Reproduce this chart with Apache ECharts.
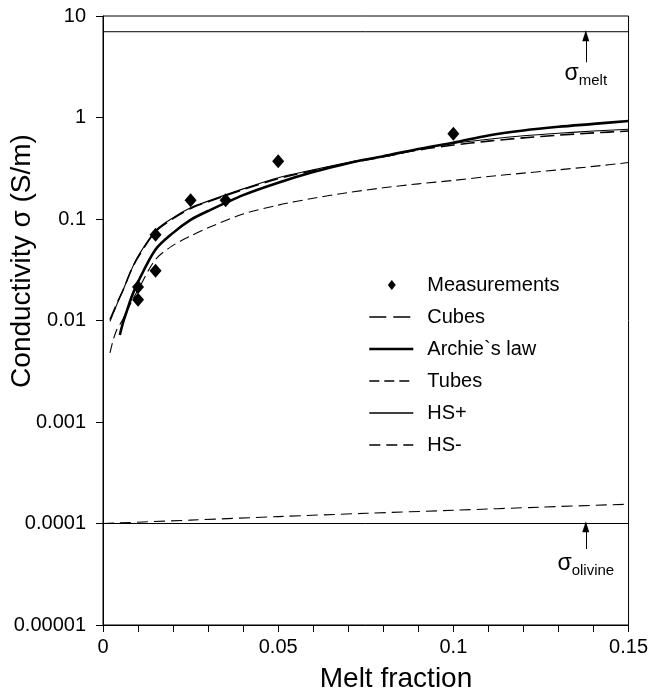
<!DOCTYPE html>
<html>
<head>
<meta charset="utf-8">
<script src="https://cdn.jsdelivr.net/npm/echarts@6/dist/echarts.min.js"></script>
<style>
  html, body { margin: 0; padding: 0; background: #fff; }
  #chart { width: 651px; height: 690px; }
</style>
</head>
<body>
<div id="chart"></div>
<script>
// measured points
var measX = [0.01, 0.01, 0.015, 0.015, 0.025, 0.035, 0.05, 0.1];
var measY = [0.0214, 0.016, 0.07, 0.031, 0.153, 0.153, 0.37, 0.69];

// model curves (melt fraction -> conductivity)
var hsPlusX = [0.002, 0.004, 0.006, 0.008, 0.01, 0.015, 0.02, 0.025, 0.03, 0.04, 0.05, 0.06, 0.07, 0.08, 0.09, 0.1, 0.11, 0.12, 0.13, 0.14, 0.15];
var hsPlusY = [0.0098, 0.0145, 0.021, 0.031, 0.043, 0.077, 0.103, 0.129, 0.15, 0.198, 0.255, 0.305, 0.36, 0.415, 0.49, 0.555, 0.61, 0.66, 0.70, 0.735, 0.765];

var cubesX = [0.002, 0.004, 0.006, 0.008, 0.01, 0.015, 0.02, 0.025, 0.03, 0.04, 0.05, 0.06, 0.07, 0.08, 0.09, 0.1, 0.11, 0.12, 0.13, 0.14, 0.15];
var cubesY = [0.0102, 0.0148, 0.021, 0.031, 0.042, 0.075, 0.101, 0.127, 0.148, 0.195, 0.25, 0.30, 0.355, 0.41, 0.478, 0.535, 0.585, 0.63, 0.67, 0.705, 0.735];

var archieX = [0.0048, 0.0057, 0.007, 0.008, 0.01, 0.015, 0.02, 0.025, 0.03, 0.04, 0.05, 0.06, 0.07, 0.08, 0.09, 0.1, 0.11, 0.12, 0.13, 0.14, 0.15];
var archieY = [0.0072, 0.0095, 0.013, 0.0165, 0.024, 0.05, 0.073, 0.098, 0.12, 0.172, 0.228, 0.29, 0.355, 0.415, 0.49, 0.565, 0.665, 0.745, 0.81, 0.865, 0.925];

var tubesX = [0.002, 0.003, 0.004, 0.0055, 0.008, 0.01, 0.015, 0.02, 0.025, 0.03, 0.04, 0.05, 0.06, 0.07, 0.08, 0.09, 0.1, 0.11, 0.12, 0.13, 0.14, 0.15];
var tubesY = [0.0048, 0.0066, 0.0082, 0.01, 0.015, 0.02, 0.04, 0.055, 0.068, 0.082, 0.112, 0.137, 0.16, 0.182, 0.203, 0.222, 0.24, 0.262, 0.283, 0.305, 0.33, 0.36];

var hsMinusX = [0, 0.025, 0.05, 0.075, 0.1, 0.125, 0.15];
var hsMinusY = [0.0001, 0.000108, 0.000117, 0.000126, 0.000135, 0.000145, 0.000155];

// end members
var sigmaMelt = 7;
var sigmaOlivine = 0.0001;

var yLabels = ['0.00001', '0.0001', '0.001', '0.01', '0.1', '1', '10'];

function pairs(xs, ys) {
  return xs.map(function (x, i) { return [x, ys[i]]; });
}

var font = '"Liberation Sans", Arial, Helvetica, sans-serif';
var myChart = echarts.init(document.getElementById('chart'));

var lineSeries = function (name, xs, ys, width, type) {
  return {
    name: name,
    type: 'line',
    data: pairs(xs, ys),
    showSymbol: false,
    symbol: 'none',
    smooth: 0.3,
    silent: true,
    lineStyle: { color: '#000', width: width, type: type },
    itemStyle: { color: '#000' },
    z: 3
  };
};

// legend entries for lines: line only, no symbol
var noSym = { color: 'rgba(0,0,0,0)', borderColor: 'rgba(0,0,0,0)', borderWidth: 0, opacity: 0 };

myChart.setOption({
  animation: false,
  backgroundColor: '#fff',
  grid: {
    left: 103, right: 19, top: 16, bottom: 65,
    show: true, borderColor: '#000', borderWidth: 1
  },
  legend: {
    orient: 'vertical',
    left: 368,
    top: 275,
    padding: 0,
    itemWidth: 44,
    itemHeight: 14,
    itemGap: 12,
    selectedMode: false,
    textStyle: { fontFamily: font, fontSize: 20, color: '#000', padding: [0, 0, 0, 9] },
    data: [
      { name: 'Measurements', icon: 'path://M0,0M0,14M5,2L9,7L5,12L1,7Z', itemStyle: { color: '#000', opacity: 1 } },
      { name: 'Cubes', itemStyle: noSym, lineStyle: { width: 1.6, type: [17, 7] } },
      { name: 'Archie`s law', itemStyle: noSym, lineStyle: { width: 2.6, type: 'solid' } },
      { name: 'Tubes', itemStyle: noSym, lineStyle: { width: 1.3, type: [10, 5] } },
      { name: 'HS+', itemStyle: noSym, lineStyle: { width: 1.3, type: 'solid' } },
      { name: 'HS-', itemStyle: noSym, lineStyle: { width: 1.3, type: [11, 6] } }
    ]
  },
  xAxis: {
    type: 'value',
    min: 0, max: 0.15, interval: 0.01,
    axisLine: { onZero: false, lineStyle: { color: '#000', width: 1 } },
    axisTick: { show: true, length: 7, lineStyle: { color: '#000' } },
    axisLabel: {
      fontFamily: font, fontSize: 20, color: '#000', margin: 12,
      showMaxLabel: true,
      formatter: function (v) {
        var k = v * 20;
        if (Math.abs(k - Math.round(k)) > 1e-6) return '';
        return String(Math.round(v * 100) / 100);
      }
    },
    splitLine: { show: false }
  },
  yAxis: {
    type: 'log',
    logBase: 10,
    min: 0.00001, max: 10,
    axisLine: { lineStyle: { color: '#000', width: 1 } },
    axisTick: { show: true, length: 7, lineStyle: { color: '#000' } },
    axisLabel: {
      fontFamily: font, fontSize: 20, color: '#000', margin: 17,
      formatter: function (v) {
        var e = Math.round(Math.log(v) / Math.LN10);
        return yLabels[e + 5] || '';
      }
    },
    splitLine: { show: false }
  },
  series: [
    {
      name: 'Measurements',
      type: 'scatter',
      data: pairs(measX, measY),
      symbol: 'diamond',
      symbolSize: [12, 14],
      itemStyle: { color: '#000', opacity: 1 },
      silent: true,
      z: 5
    },
    lineSeries('Cubes', cubesX, cubesY, 1.6, [14, 6]),
    lineSeries('Archie`s law', archieX, archieY, 2.6, 'solid'),
    lineSeries('Tubes', tubesX, tubesY, 1.1, [10, 5]),
    lineSeries('HS+', hsPlusX, hsPlusY, 1.1, 'solid'),
    lineSeries('HS-', hsMinusX, hsMinusY, 1.1, [11, 6]),
    {
      name: 'melt',
      type: 'line',
      data: [[0, sigmaMelt], [0.15, sigmaMelt]],
      symbol: 'none',
      silent: true,
      lineStyle: { color: '#000', width: 1 },
      markLine: {
        silent: true,
        symbol: ['none', 'triangle'],
        symbolSize: [7, 11],
        label: { show: false },
        lineStyle: { color: '#000', width: 1, type: 'solid' },
        data: [[{ coord: [0.1378, 3.5] }, { coord: [0.1378, 6.4] }]]
      }
    },
    {
      name: 'olivine',
      type: 'line',
      data: [[0, sigmaOlivine], [0.15, sigmaOlivine]],
      symbol: 'none',
      silent: true,
      lineStyle: { color: '#000', width: 1 },
      markLine: {
        silent: true,
        symbol: ['none', 'triangle'],
        symbolSize: [7, 11],
        label: { show: false },
        lineStyle: { color: '#000', width: 1, type: 'solid' },
        data: [[{ coord: [0.1378, 0.000056] }, { coord: [0.1378, 0.000093] }]]
      }
    }
  ]
});

// annotations placed from data coordinates
var pMelt = myChart.convertToPixel({ gridIndex: 0 }, [0.1378, 2.6]);
var pOliv = myChart.convertToPixel({ gridIndex: 0 }, [0.1378, 0.000039]);
var sub = { s: { fontFamily: font, fontSize: 23, lineHeight: 26, verticalAlign: 'top', color: '#000' },
            m: { fontFamily: font, fontSize: 15, lineHeight: 26, verticalAlign: 'bottom', color: '#000' } };

myChart.setOption({
  graphic: [
    {
      type: 'text', x: pMelt[0], y: pMelt[1], silent: true,
      style: { text: '{s|σ}{m|melt}', rich: sub, align: 'center', verticalAlign: 'middle' }
    },
    {
      type: 'text', x: pOliv[0], y: pOliv[1], silent: true,
      style: { text: '{s|σ}{m|olivine}', rich: sub, align: 'center', verticalAlign: 'middle' }
    },
    {
      type: 'text', x: 22, y: 261, rotation: Math.PI / 2, silent: true,
      style: { text: 'Conductivity σ (S/m)', fontFamily: font, fontSize: 28, fill: '#000',
               align: 'center', verticalAlign: 'middle' }
    },
    {
      type: 'text', x: 396, y: 679, silent: true,
      style: { text: 'Melt fraction', fontFamily: font, fontSize: 28, fill: '#000',
               align: 'center', verticalAlign: 'middle' }
    }
  ]
});
</script>
</body>
</html>
